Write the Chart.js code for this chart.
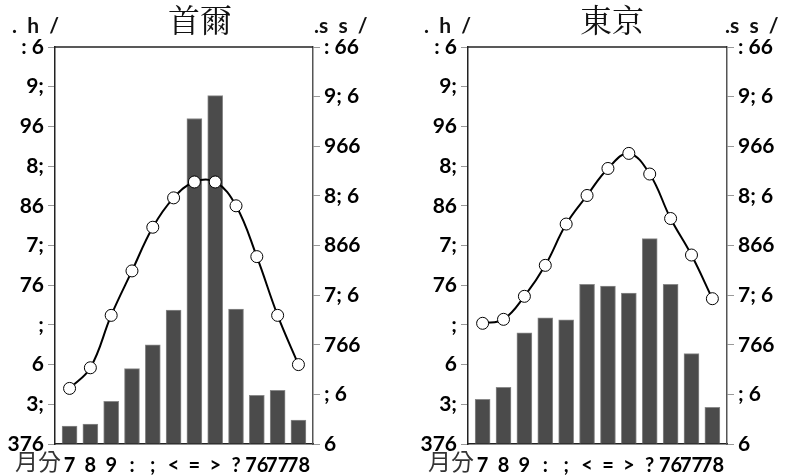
<!DOCTYPE html>
<html>
<head>
<meta charset="utf-8">
<script src="https://cdn.jsdelivr.net/npm/chart.js@4.4.1/dist/chart.umd.min.js"></script>
<style>
  body { margin: 0; background: #fff; width: 790px; height: 476px; position: relative; overflow: hidden; }
  canvas { position: absolute; top: 0; }
  #seoul { left: 0; }
  #tokyo { left: 395px; }
</style>
</head>
<body>
<canvas id="seoul" width="395" height="476"></canvas>
<canvas id="tokyo" width="395" height="476"></canvas>
<script>
    /* Data */

var months = ['7', '8', '9', ':', ';', '<', '=', '>', '?', '76', '77', '78'];

var seoulTemp = [-3.0, -0.4, 6.2, 11.8, 17.3, 21.0, 23.0, 23.0, 20.0, 13.6, 6.2, 0.0];
var seoulRain = [18, 20, 43, 76, 100, 135, 328, 351, 136, 49, 54, 24];

var tokyoTemp = [5.2, 5.7, 8.6, 12.5, 17.7, 21.3, 24.7, 26.6, 24.0, 18.4, 13.8, 8.3];
var tokyoRain = [45, 57, 112, 127, 125, 161, 159, 152, 207, 161, 91, 37];

var tempTicks = [-10, -5, 0, 5, 10, 15, 20, 25, 30, 35, 40];
var tempLabels = ['376', '3;', '6', ';', '76', '7;', '86', '8;', '96', '9;', ': 6'];

var rainTicks = [0, 50, 100, 150, 200, 250, 300, 350, 400];
var rainLabels = ['6', '; 6', '766', '7; 6', '866', '8; 6', '966', '9; 6', ': 66'];

    /* Fonts */

var tickFont = { family: 'Lato', weight: 'bold', size: 21 };

    /* Extra text + frame */

var decor = {
    id: 'decor',
    afterDraw: function (chart, args, o) {
        var c = chart.ctx, a = chart.chartArea;
        c.save();
        c.strokeStyle = '#222';
        c.lineWidth = 1.5;
        c.beginPath();
        c.moveTo(a.left, a.top);
        c.lineTo(a.right, a.top);
        c.stroke();

        c.fillStyle = '#111';
        c.textBaseline = 'middle';
        c.textAlign = 'center';
        c.font = '32px "Noto Serif CJK TC", "Noto Sans CJK TC", serif';
        c.fillText(o.title, o.titleX, 20);

        c.textBaseline = 'alphabetic';
        c.textAlign = 'left';
        c.font = 'bold 21px Lato';
        c.fillText('.  h  /', o.unitL, 33);
        c.fillText('.s  s  /', o.unitR, 33);

        c.textBaseline = 'middle';
        c.font = '23px "Noto Sans CJK TC"';
        c.fillStyle = '#333';
        c.fillText('月分', o.monthX, 461);
        c.restore();
    }
};

function makeChart(id, title, temps, rain, o) {
    var ctx = document.getElementById(id).getContext('2d');
    return new Chart(ctx, {
        data: {
            datasets: [{
                type: 'line',
                data: temps.map(function (t, i) { return { x: i + 1, y: t }; }),
                yAxisID: 'y',
                borderColor: '#000',
                borderWidth: 2,
                tension: 0.4,
                pointRadius: 6,
                pointBackgroundColor: '#fff',
                pointBorderColor: '#000',
                pointBorderWidth: 1,
                order: 0
            }, {
                type: 'bar',
                data: rain.map(function (r, i) { return { x: i + 1, y: r }; }),
                yAxisID: 'y1',
                backgroundColor: '#4b4b4b',
                borderColor: '#8a8a8a',
                borderWidth: 1,
                barThickness: 15,
                order: 1
            }]
        },
        options: {
            responsive: false,
            animation: false,
            layout: { padding: { top: 47 }, autoPadding: false },
            plugins: {
                legend: { display: false },
                tooltip: { enabled: false },
                decor: o
            },
            scales: {
                x: {
                    type: 'linear',
                    offset: false,
                    min: 0.3,
                    max: 12.7,
                    afterBuildTicks: function (s) {
                        s.ticks = months.map(function (m, i) { return { value: i + 1 }; });
                    },
                    afterFit: function (s) { s.height = 32; },
                    ticks: {
                        autoSkip: false,
                        maxRotation: 0,
                        padding: 2,
                        color: '#000',
                        font: { family: 'Lato', weight: 'bold', size: 20 },
                        callback: function (v) { return months[v - 1]; }
                    },
                    grid: { display: false },
                    border: { display: true, color: '#222', width: 1.5 }
                },
                y: {
                    position: 'left',
                    min: -10,
                    max: 40,
                    afterBuildTicks: function (s) {
                        s.ticks = tempTicks.map(function (v) { return { value: v }; });
                    },
                    afterFit: function (s) { s.width = o.leftW; },
                    ticks: {
                        padding: 4,
                        color: '#000',
                        font: tickFont,
                        callback: function (v) { return tempLabels[tempTicks.indexOf(v)]; }
                    },
                    grid: { drawOnChartArea: false, color: '#999', tickLength: 7 },
                    border: { display: true, color: '#222', width: 1.5 }
                },
                y1: {
                    position: 'right',
                    min: 0,
                    max: 400,
                    afterBuildTicks: function (s) {
                        s.ticks = rainTicks.map(function (v) { return { value: v }; });
                    },
                    afterFit: function (s) { s.width = o.rightW; },
                    ticks: {
                        padding: 4,
                        color: '#000',
                        font: tickFont,
                        callback: function (v) { return rainLabels[rainTicks.indexOf(v)]; }
                    },
                    grid: { drawOnChartArea: false, color: '#999', tickLength: 7 },
                    border: { display: true, color: '#555', width: 1.5 }
                }
            }
        },
        plugins: [decor]
    });
}

makeChart('seoul', '首爾', seoulTemp, seoulRain,
    { title: '首爾', titleX: 200, unitL: 12, unitR: 314, monthX: 15, leftW: 55, rightW: 82 });
makeChart('tokyo', '東京', tokyoTemp, tokyoRain,
    { title: '東京', titleX: 217, unitL: 29, unitR: 330, monthX: 33, leftW: 73, rightW: 63 });
</script>
</body>
</html>
